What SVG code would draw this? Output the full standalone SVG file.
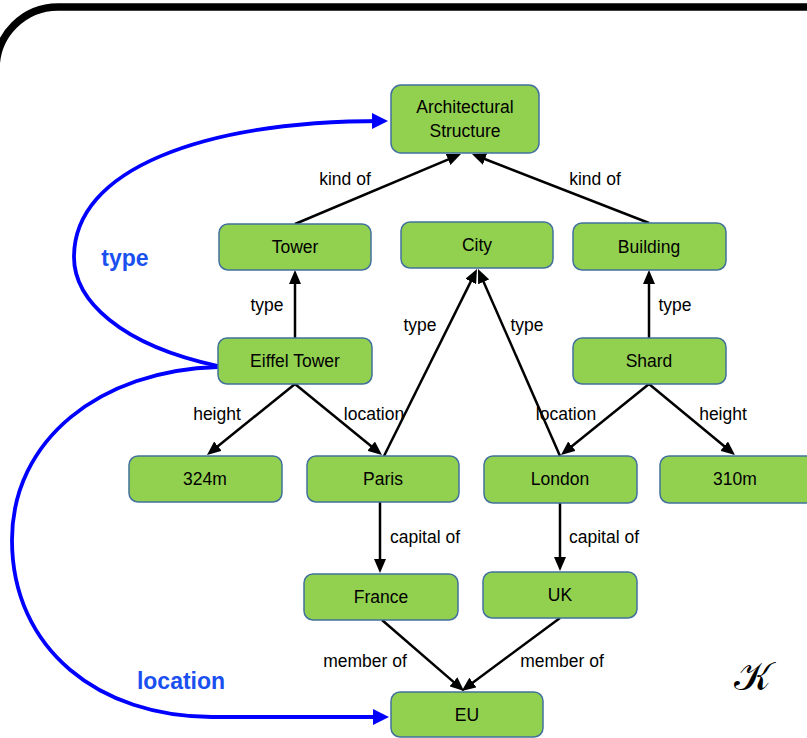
<svg xmlns="http://www.w3.org/2000/svg" width="807" height="738" viewBox="0 0 807 738">
  <style>
    .node rect { fill: #92d050; stroke: #41719c; stroke-width: 1.5; }
    .node text { font-family: "Liberation Sans", Arial, sans-serif; font-size: 17.5px; fill: #000; text-anchor: middle; }
    .edge { stroke: #000; stroke-width: 2.5; fill: none; marker-end: url(#arrow); }
    .rel { stroke: #0000ff; stroke-width: 3.8; fill: none; }
    .lbl { font-family: "Liberation Sans", Arial, sans-serif; font-size: 17.5px; fill: #000; text-anchor: middle; }
    .blbl { font-family: "Liberation Sans", Arial, sans-serif; font-size: 23px; font-weight: bold; fill: #1a4ff0; text-anchor: middle; }
  </style>
  <defs>
    <marker id="arrow" viewBox="0 0 14 12" markerWidth="14" markerHeight="12" refX="10" refY="6" markerUnits="userSpaceOnUse" orient="auto">
      <path d="M0,0 L14,6 L0,12 z" fill="#000"/>
    </marker>
    <marker id="barrow" viewBox="0 0 16 16" markerWidth="16" markerHeight="16" refX="12" refY="8" markerUnits="userSpaceOnUse" orient="auto">
      <path d="M0,0 L16,8 L0,16 z" fill="#0000ff"/>
    </marker>
  </defs>

  <rect width="807" height="738" fill="#fff"/>
  <!-- outer frame -->
  <rect x="-4" y="7" width="900" height="900" rx="62" ry="62" fill="none" stroke="#000" stroke-width="7.5"/>

  <!-- connectors -->
  <g id="connectors">
    <line class="edge" x1="295" y1="224" x2="457.3" y2="155.6"/>
    <line class="edge" x1="649" y1="223" x2="475.7" y2="155.5"/>
    <line class="edge" x1="295" y1="338" x2="295" y2="274"/>
    <line class="edge" x1="649" y1="338" x2="649" y2="274"/>
    <line class="edge" x1="384" y1="456" x2="475.2" y2="272.6"/>
    <line class="edge" x1="560" y1="456" x2="479.6" y2="272.7"/>
    <line class="edge" x1="295" y1="384" x2="210.1" y2="452.5"/>
    <line class="edge" x1="295" y1="384" x2="378.9" y2="452.5"/>
    <line class="edge" x1="649" y1="384" x2="564.1" y2="452.5"/>
    <line class="edge" x1="649" y1="384" x2="731.9" y2="452.5"/>
    <line class="edge" x1="380" y1="502" x2="380" y2="569"/>
    <line class="edge" x1="560" y1="503" x2="560" y2="567"/>
    <line class="edge" x1="382" y1="620" x2="461" y2="688.4"/>
    <line class="edge" x1="560" y1="618" x2="464.9" y2="688.5"/>

    <path class="rel" marker-end="url(#barrow)" d="M218,366 C120,345 74,300 74,257 C74,170 200,121 384,121"/>
    <path class="rel" marker-end="url(#barrow)" d="M218,367 C100,370 12,440 12,540 C12,650 100,717 212,717 L385,717"/>

    <text class="lbl" x="345" y="185">kind of</text>
    <text class="lbl" x="595" y="185">kind of</text>
    <text class="lbl" x="267" y="311">type</text>
    <text class="lbl" x="675" y="311">type</text>
    <text class="lbl" x="420" y="331">type</text>
    <text class="lbl" x="527" y="331">type</text>
    <text class="lbl" x="217" y="420">height</text>
    <text class="lbl" x="374" y="420">location</text>
    <text class="lbl" x="566" y="420">location</text>
    <text class="lbl" x="723" y="420">height</text>
    <text class="lbl" x="425" y="543">capital of</text>
    <text class="lbl" x="604" y="543">capital of</text>
    <text class="lbl" x="365" y="667">member of</text>
    <text class="lbl" x="562" y="667">member of</text>

    <text class="blbl" x="125" y="266">type</text>
    <text class="blbl" x="181" y="689">location</text>
  </g>

  <!-- nodes -->
  <g id="arch" class="node">
    <rect x="391" y="85" width="148" height="68" rx="10"/>
    <text x="465" y="113">Architectural</text>
    <text x="465" y="137">Structure</text>
  </g>
  <g id="tower" class="node">
    <rect x="219" y="224" width="152" height="46" rx="9"/>
    <text x="295" y="253">Tower</text>
  </g>
  <g id="city" class="node">
    <rect x="401" y="222" width="152" height="46" rx="9"/>
    <text x="477" y="251">City</text>
  </g>
  <g id="building" class="node">
    <rect x="573" y="223" width="153" height="47" rx="9"/>
    <text x="649" y="253">Building</text>
  </g>
  <g id="eiffel" class="node">
    <rect x="218" y="338" width="154" height="46" rx="9"/>
    <text x="295" y="367">Eiffel Tower</text>
  </g>
  <g id="shard" class="node">
    <rect x="573" y="338" width="153" height="46" rx="9"/>
    <text x="649" y="367">Shard</text>
  </g>
  <g id="h324" class="node">
    <rect x="129" y="456" width="153" height="46" rx="9"/>
    <text x="205" y="485">324m</text>
  </g>
  <g id="paris" class="node">
    <rect x="307" y="456" width="152" height="46" rx="9"/>
    <text x="383" y="485">Paris</text>
  </g>
  <g id="london" class="node">
    <rect x="484" y="456" width="153" height="47" rx="9"/>
    <text x="560" y="485">London</text>
  </g>
  <g id="h310" class="node">
    <rect x="660" y="456" width="156" height="47" rx="9"/>
    <text x="735" y="485">310m</text>
  </g>
  <g id="france" class="node">
    <rect x="304" y="574" width="154" height="46" rx="9"/>
    <text x="381" y="603">France</text>
  </g>
  <g id="uk" class="node">
    <rect x="483" y="572" width="154" height="46" rx="9"/>
    <text x="560" y="601">UK</text>
  </g>
  <g id="eu" class="node">
    <rect x="391" y="692" width="152" height="45" rx="9"/>
    <text x="467" y="721">EU</text>
  </g>

  <!-- graph symbol -->
  <text x="752" y="690" font-family="DejaVu Serif, Noto Sans, serif" font-size="40" text-anchor="middle" fill="#000">𝒦</text>
</svg>
